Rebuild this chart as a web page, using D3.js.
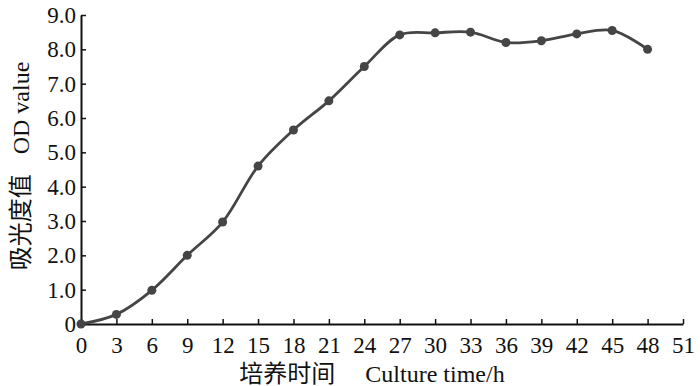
<!DOCTYPE html>
<html>
<head>
<meta charset="utf-8">
<script src="https://cdn.jsdelivr.net/npm/d3@7"></script>
<style>
  body { margin: 0; background: #fff; }
  text { font-family: "Liberation Serif", "Noto Sans CJK SC", serif; }
</style>
</head>
<body>
<div id="chart"></div>
<script>
// culture time (h) and OD readings
const hours = [0, 3, 6, 9, 12, 15, 18, 21, 24, 27, 30, 33, 36, 39, 42, 45, 48];
const odValues = [0, 0.28, 0.98, 2.0, 2.97, 4.6, 5.65, 6.5, 7.5, 8.42, 8.48, 8.5, 8.2, 8.25, 8.45, 8.55, 8.0];
const xTicks = [0, 3, 6, 9, 12, 15, 18, 21, 24, 27, 30, 33, 36, 39, 42, 45, 48, 51];
const yTicks = [0, 1, 2, 3, 4, 5, 6, 7, 8, 9];

const width = 700, height = 386;
const margin = { top: 15, right: 17, bottom: 62, left: 81 };

const svg = d3.select("#chart")
  .append("svg")
  .attr("width", width)
  .attr("height", height);

const x = d3.scaleLinear()
  .domain([0, 51])
  .range([margin.left, width - margin.right]);

const y = d3.scaleLinear()
  .domain([0, 9])
  .range([height - margin.bottom, margin.top]);

// x axis, ticks pointing up
const xAxis = svg.append("g")
  .attr("transform", `translate(0,${height - margin.bottom})`)
  .call(d3.axisBottom(x).tickValues(xTicks).tickSizeInner(-5).tickSizeOuter(0).tickPadding(13));
xAxis.select(".domain").attr("stroke", "#111").attr("stroke-width", 2);
xAxis.selectAll(".tick line").attr("stroke", "#111").attr("stroke-width", 1.5);
xAxis.selectAll("text").attr("font-size", "23px").attr("fill", "#111")
  .style("font-family", "Liberation Serif, serif");

// y axis, ticks pointing right
const yAxis = svg.append("g")
  .attr("transform", `translate(${margin.left},0)`)
  .call(d3.axisLeft(y).tickValues(yTicks).tickSizeInner(-5).tickSizeOuter(0).tickPadding(5)
    .tickFormat(d => d === 0 ? "0" : d3.format(".1f")(d)));
yAxis.select(".domain").attr("stroke", "#111").attr("stroke-width", 2);
yAxis.selectAll(".tick line").attr("stroke", "#111").attr("stroke-width", 1.5);
yAxis.selectAll("text").attr("font-size", "23px").attr("fill", "#111")
  .style("font-family", "Liberation Serif, serif");

// the growth curve
const line = d3.line()
  .x((d, i) => x(hours[i]))
  .y(d => y(d))
  .curve(d3.curveCatmullRom.alpha(0.5));

svg.append("path")
  .datum(odValues)
  .attr("fill", "none")
  .attr("stroke", "#454545")
  .attr("stroke-width", 2.8)
  .attr("d", line);

svg.selectAll("circle")
  .data(odValues)
  .enter()
  .append("circle")
    .attr("cx", (d, i) => x(hours[i]))
    .attr("cy", d => y(d))
    .attr("r", 4.5)
    .attr("fill", "#454545");

// axis titles
const xTitle = svg.append("text")
  .attr("x", 372)
  .attr("y", 382)
  .attr("text-anchor", "middle")
  .attr("font-size", "24px")
  .attr("fill", "#111");
xTitle.append("tspan").text("培养时间");
xTitle.append("tspan").attr("dx", 30).text("Culture time/h");

const yTitle = svg.append("text")
  .attr("transform", "translate(29,166) rotate(-90)")
  .attr("text-anchor", "middle")
  .attr("font-size", "24px")
  .attr("fill", "#111");
yTitle.append("tspan").text("吸光度值");
yTitle.append("tspan").attr("dx", 20).text("OD value");
</script>
</body>
</html>
